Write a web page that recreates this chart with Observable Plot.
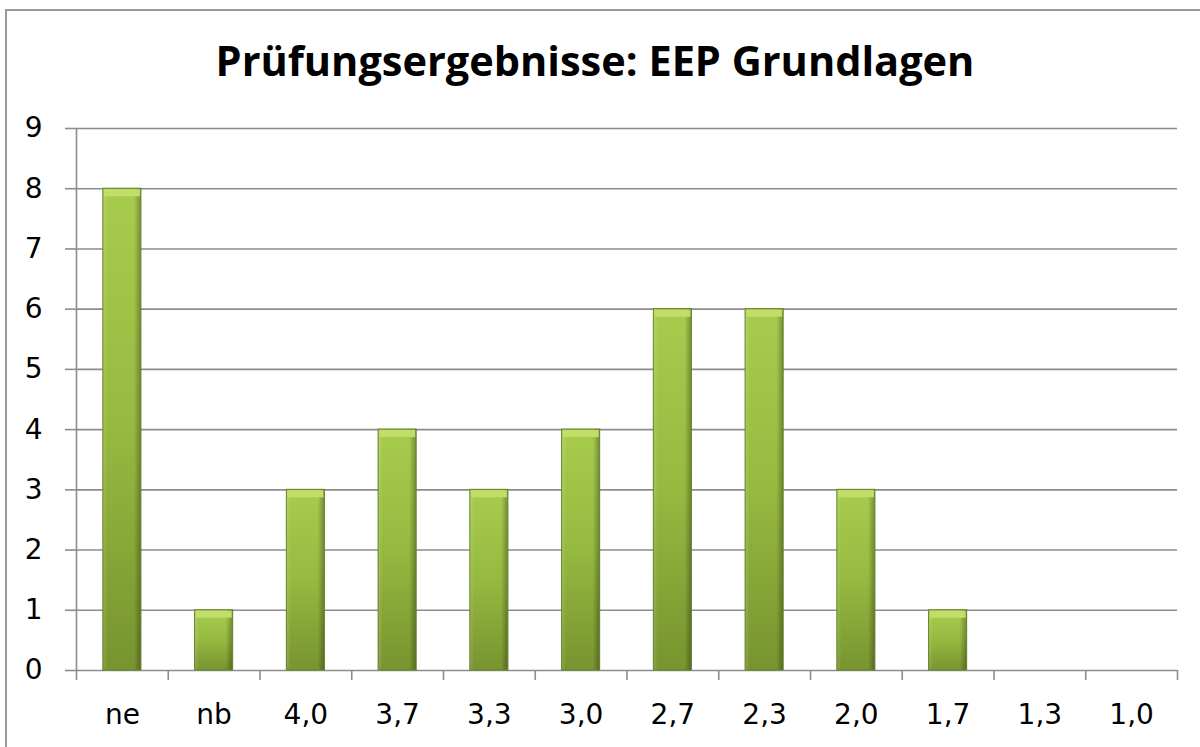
<!DOCTYPE html>
<html><head><meta charset="utf-8">
<script src="https://cdn.jsdelivr.net/npm/d3@7"></script>
<script src="https://cdn.jsdelivr.net/npm/@observablehq/plot@0.6"></script>
<style>
body{margin:0;background:#fff;overflow:hidden;width:1200px;height:747px}
#frame{position:absolute;left:5px;top:9px;width:1230px;height:800px;border:2px solid #9a9a9a;box-sizing:border-box}
#title{position:absolute;left:0;width:1190px;top:40px;text-align:center;font:bold 41.5px/1 "Open Sans";color:#000}
#chart{position:absolute;left:0;top:0}
</style></head><body>
<div id="frame"></div>
<div id="title">Prüfungsergebnisse: EEP Grundlagen</div>
<svg width="0" height="0" style="position:absolute">
 <defs>
  <linearGradient id="gv" x1="0" y1="0" x2="0" y2="1">
   <stop offset="0" stop-color="#a8cc4e"/>
   <stop offset="0.5" stop-color="#96b940"/>
   <stop offset="1" stop-color="#77942f"/>
  </linearGradient>
  <linearGradient id="gh" x1="0" y1="0" x2="1" y2="0">
   <stop offset="0" stop-color="#ffffff" stop-opacity="0.15"/>
   <stop offset="0.12" stop-color="#ffffff" stop-opacity="0"/>
   <stop offset="0.82" stop-color="#000000" stop-opacity="0"/>
   <stop offset="1" stop-color="#000000" stop-opacity="0.3"/>
  </linearGradient>
 </defs>
</svg>
<div id="chart"></div>
<script>
const categories = ["ne","nb","4,0","3,7","3,3","3,0","2,7","2,3","2,0","1,7","1,3","1,0"];
const values = [8,1,3,4,3,4,6,6,3,1,0,0];
const yTicks = [0,1,2,3,4,5,6,7,8,9];

const data = categories.map((c,i)=>({cat:c, val:values[i]}));
const W = 1200, H = 747, ML = 76, MR = 23, MT = 128, MB = 77;
const step = (W - ML - MR) / categories.length;
const gridColor = "#8c8c8c";
const font = "DejaVu Sans";

const chart = Plot.plot({
  width: W, height: H,
  marginLeft: ML, marginRight: MR, marginTop: MT, marginBottom: MB,
  style: {fontFamily: font, fontSize: "28px", color: "#000", background: "transparent", overflow: "visible"},
  x: {domain: categories, paddingInner: 0.585, paddingOuter: 0.2925, round: false, label: null},
  y: {domain: [0, 9], label: null},
  marks: [
    Plot.gridY(yTicks, {stroke: gridColor, strokeOpacity: 1, strokeWidth: 1.6}),
    Plot.axisY({ticks: yTicks, tickSize: 11, tickPadding: 23, stroke: gridColor, strokeWidth: 1.6, fill: "#000", fontSize: 28, label: null}),
    Plot.ruleX([categories[0]], {dx: -step/2, y1: 0, y2: 9, stroke: gridColor, strokeWidth: 1.6}),
    Plot.axisX({ticks: categories, tickSize: 10, tickFormat: () => "", dx: -step/2, stroke: gridColor, strokeWidth: 1.6, label: null}),
    Plot.axisX({ticks: [categories[categories.length-1]], tickSize: 10, tickFormat: () => "", dx: step/2, stroke: gridColor, strokeWidth: 1.6, label: null}),
    Plot.axisX({ticks: categories, tickSize: 0, tickPadding: 34, fill: "#000", fontSize: 28, label: null}),
    Plot.barY(data.filter(d => d.val > 0), {x: "cat", y: "val", fill: "url(#gv)"}),
    Plot.barY(data.filter(d => d.val > 0), {x: "cat", y: "val", fill: "url(#gh)"}),
    Plot.tickY(data.filter(d => d.val > 0), {x: "cat", y: "val", stroke: "#c2de6a", strokeWidth: 7, dy: 4, inset: 1}),
    Plot.barY(data.filter(d => d.val > 0), {x: "cat", y: "val", fill: "none", stroke: "#66822a", strokeWidth: 1})
  ]
});
document.getElementById("chart").appendChild(chart);
</script>
</body></html>
